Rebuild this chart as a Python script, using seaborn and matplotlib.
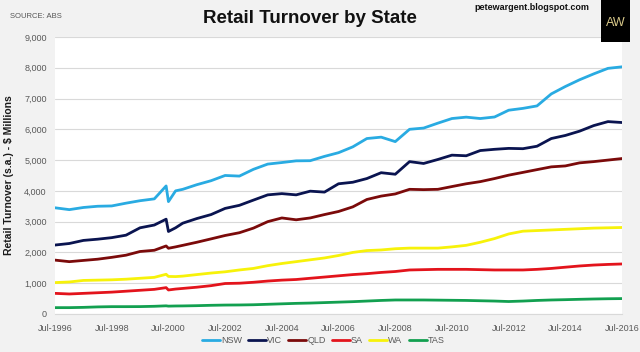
import pandas as pd
import matplotlib.pyplot as plt
import matplotlib.dates as mdates
from matplotlib.patches import Rectangle
import seaborn as sns

# dates: half-yearly readings plus the GST spike around mid-2000
dates = ["1996-07", "1997-01", "1997-07", "1998-01", "1998-07", "1999-01", "1999-07",
         "2000-01", "2000-06", "2000-07", "2000-10", "2001-01", "2001-07",
         "2002-01", "2002-07", "2003-01", "2003-07", "2004-01", "2004-07",
         "2005-01", "2005-07", "2006-01", "2006-07", "2007-01", "2007-07",
         "2008-01", "2008-07", "2009-01", "2009-07", "2010-01", "2010-07",
         "2011-01", "2011-07", "2012-01", "2012-07", "2013-01", "2013-07",
         "2014-01", "2014-07", "2015-01", "2015-07", "2016-01", "2016-07"]

nsw = [3450, 3390, 3460, 3500, 3510, 3600, 3680, 3740, 4160, 3650, 4000, 4050, 4200,
       4330, 4500, 4480, 4700, 4870, 4920, 4975, 4980, 5120, 5240, 5430, 5700,
       5745, 5600, 6000, 6040, 6200, 6350, 6395, 6350, 6400, 6620, 6680, 6760,
       7150, 7390, 7610, 7800, 7980, 8030]
vic = [2240, 2290, 2390, 2430, 2480, 2560, 2800, 2890, 3080, 2680, 2800, 2950, 3100,
       3230, 3430, 3530, 3700, 3870, 3910, 3870, 3990, 3960, 4230, 4280, 4400,
       4590, 4540, 4950, 4890, 5020, 5160, 5140, 5310, 5350, 5380, 5370, 5450,
       5700, 5800, 5940, 6120, 6250, 6220]
qld = [1750, 1700, 1740, 1780, 1840, 1910, 2030, 2070, 2210, 2135, 2180, 2230, 2330,
       2440, 2550, 2640, 2790, 3000, 3120, 3060, 3120, 3230, 3330, 3480, 3720,
       3830, 3900, 4050, 4040, 4050, 4140, 4230, 4300, 4400, 4510, 4600, 4690,
       4780, 4810, 4910, 4950, 5000, 5050]
sa = [670, 650, 670, 690, 710, 740, 770, 800, 856, 780, 810, 830, 870,
      920, 990, 1000, 1030, 1070, 1100, 1120, 1160, 1200, 1240, 1280, 1310,
      1350, 1380, 1430, 1440, 1450, 1450, 1450, 1440, 1430, 1430, 1430, 1450,
      1480, 1520, 1560, 1590, 1610, 1625]
wa = [1020, 1040, 1090, 1100, 1110, 1130, 1160, 1190, 1290, 1220, 1215, 1230, 1280,
      1330, 1370, 1430, 1480, 1570, 1640, 1700, 1760, 1820, 1900, 2000, 2060,
      2080, 2120, 2140, 2140, 2140, 2180, 2230, 2330, 2450, 2600, 2690, 2710,
      2730, 2750, 2770, 2790, 2800, 2810]
tas = [206, 206, 215, 230, 238, 238, 240, 250, 265, 255, 260, 262, 270,
       282, 290, 293, 300, 315, 330, 345, 355, 370, 385, 400, 420,
       440, 455, 455, 455, 450, 445, 440, 430, 420, 405, 420, 440,
       455, 465, 477, 487, 495, 500]

states = ["NSW", "VIC", "QLD", "SA", "WA", "TAS"]
colors = ["#29abe2", "#0a1450", "#7b0a0a", "#e3141c", "#f7f20a", "#12a050"]

df = pd.DataFrame({"date": pd.to_datetime(dates), "NSW": nsw, "VIC": vic, "QLD": qld,
                   "SA": sa, "WA": wa, "TAS": tas})
long = df.melt(id_vars="date", var_name="state", value_name="turnover")

sns.set_style("white")
plt.rcParams["font.family"] = ["Liberation Sans Narrow", "Liberation Sans", "DejaVu Sans"]

fig = plt.figure(figsize=(6.4, 3.52), dpi=100, facecolor="#f2f2f2")
ax = fig.add_axes([0.086, 0.108, 0.886, 0.787])
ax.set_facecolor("white")

sns.lineplot(data=long, x="date", y="turnover", hue="state", hue_order=states,
             palette=dict(zip(states, colors)), linewidth=2, ax=ax)

ax.set_xlim(pd.Timestamp("1996-07-01"), pd.Timestamp("2016-07-01"))
ax.set_ylim(0, 9000)
ax.set_yticks(range(0, 9001, 1000))
ax.set_yticklabels([f"{v:,}" for v in range(0, 9001, 1000)])
ax.set_xticks(pd.to_datetime([f"{y}-07-01" for y in range(1996, 2017, 2)]))
ax.xaxis.set_major_formatter(mdates.DateFormatter("Jul-%Y"))
ax.tick_params(labelsize=6.5, colors="#595959", length=0)
ax.tick_params(axis="x", pad=7)
ax.tick_params(axis="y", pad=6)
ax.grid(axis="y", color="#d9d9d9", linewidth=0.8)
for s in ax.spines.values():
    s.set_visible(False)
ax.spines["bottom"].set_visible(True)
ax.spines["bottom"].set_color("#d9d9d9")

ax.set_xlabel("")
ax.set_ylabel("Retail Turnover (s.a.) - $ Millions", fontsize=7.5, fontweight="bold",
              color="#1a1a1a", labelpad=7)

ax.legend(loc="center", bbox_to_anchor=(0.505, 0.032), bbox_transform=fig.transFigure,
          ncol=6, frameon=False, fontsize=6.5, handlelength=2.0, columnspacing=0.7,
          handletextpad=0.1, labelcolor="#595959")

fig.text(0.485, 0.948, "Retail Turnover by State", ha="center", va="center",
         fontsize=13.5, fontweight="bold", color="#111111")
fig.text(0.016, 0.953, "SOURCE: ABS", ha="left", va="center", fontsize=5.5, color="#555555")
fig.text(0.742, 0.978, "petewargent.blogspot.com", ha="left", va="center",
         fontsize=6.5, fontweight="bold", color="#111111")
fig.patches.append(Rectangle((0.939, 0.88), 0.046, 0.12, transform=fig.transFigure,
                             facecolor="black", edgecolor="none"))
fig.text(0.962, 0.935, "AW", ha="center", va="center", fontsize=9, color="#d9c98a")

fig.savefig("out.png", dpi=100, facecolor=fig.get_facecolor())
